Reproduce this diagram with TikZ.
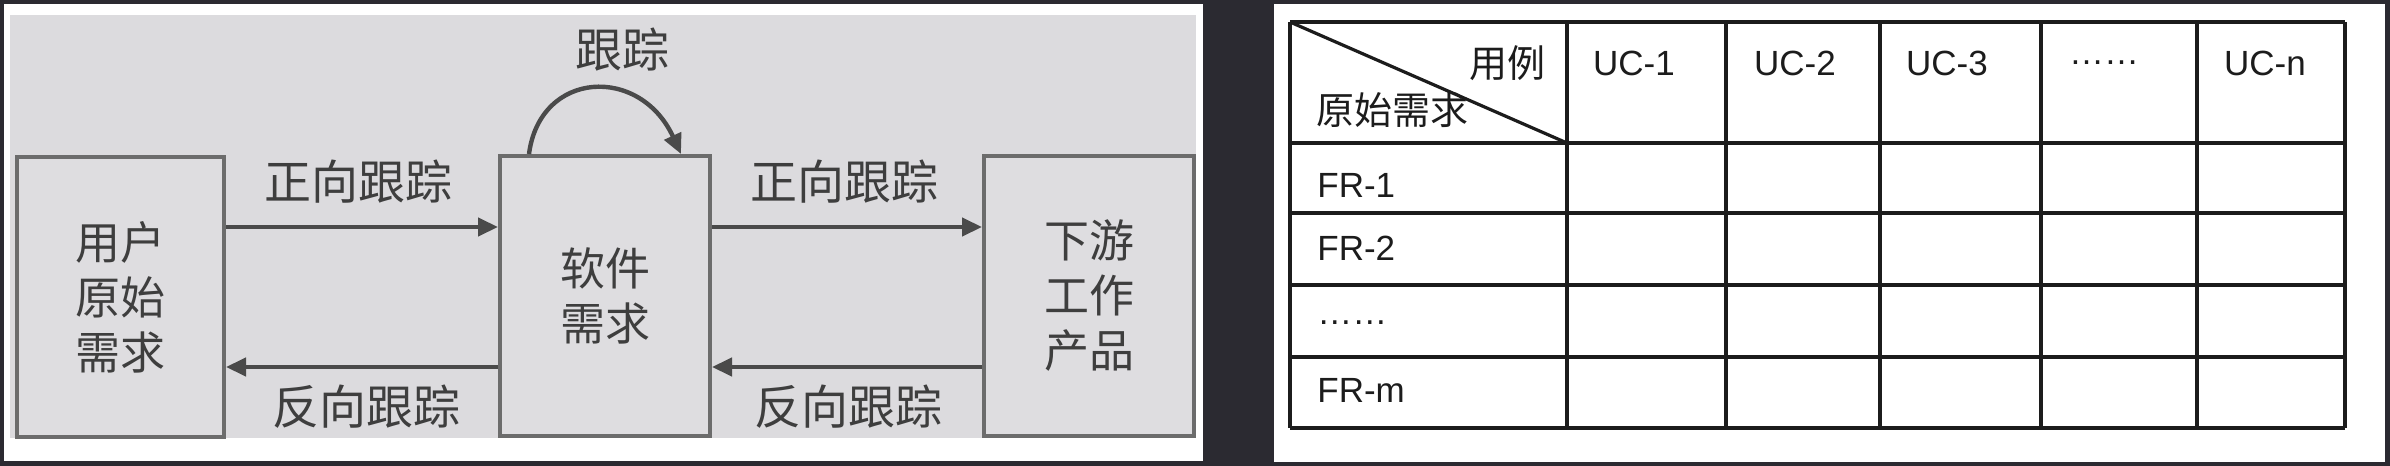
\documentclass[tikz,border=0pt]{standalone}
\usepackage{fontspec}
\setmainfont{Liberation Sans}
\newfontfamily\cjk{Noto Sans CJK SC}
\usetikzlibrary{arrows.meta,calc}
\definecolor{darkbg}{HTML}{2B2A31}
\definecolor{panelgray}{HTML}{DCDBDE}
\definecolor{boxfill}{HTML}{DEDDE0}
\definecolor{boxline}{HTML}{6C6C6C}
\definecolor{arrline}{HTML}{4A4A4A}
\definecolor{txtgray}{HTML}{3E3E3E}
\definecolor{tabline}{HTML}{1C1C1C}
\tikzset{
  flowbox/.style={draw=boxline, line width=2pt, fill=boxfill, minimum height=140pt,
    align=center, text=txtgray, inner sep=0pt,
    font=\cjk\fontsize{22.5}{27.5}\selectfont},
  arr/.style={draw=arrline, line width=2.2pt, -{Triangle[length=10pt,width=9pt]}},
  flowlbl/.style={text=txtgray, inner sep=0pt, font=\cjk\fontsize{23.5}{28}\selectfont},
  tabrule/.style={draw=tabline, line width=2pt},
  tabcjk/.style={text=tabline, inner sep=0pt, font=\cjk\fontsize{19}{22}\selectfont},
  tablat/.style={text=tabline, inner sep=0pt, font=\fontsize{17.5}{20}\selectfont}
}
\begin{document}
\begin{tikzpicture}[x=0.5pt,y=-0.5pt]
\useasboundingbox (0,0) rectangle (2390,466);
\fill[darkbg] (0,0) rectangle (2390,466);
% ---------- left panel ----------
\fill[white] (4,4) rectangle (1203,461);
\fill[panelgray] (10,15) rectangle (1196,438);
\node[flowbox, minimum width=103.5pt] (lb) at (120.5,297) {用户\\原始\\需求};
\node[flowbox, minimum width=105pt] (mb) at (605,296) {软件\\需求};
\node[flowbox, minimum width=105pt] (rb) at (1089,296) {下游\\工作\\产品};
\coordinate (yf) at (0,227);
\coordinate (yb) at (0,367);
\draw[arr] (lb.east |- yf) -- (mb.west |- yf);
\draw[arr] (mb.east |- yf) -- (rb.west |- yf);
\draw[arr] (mb.west |- yb) -- (lb.east |- yb);
\draw[arr] (rb.west |- yb) -- (mb.east |- yb);
\node[flowlbl] (f1) at (358,182) {正向跟踪};
\node[flowlbl] (f2) at (844,182) {正向跟踪};
\node[flowlbl] (b1) at (366,407) {反向跟踪};
\node[flowlbl] (b2) at (848,407) {反向跟踪};
\node[flowlbl] (tl) at (622,50) {跟踪};
\coordinate (ls) at ($(mb.north)+(-76,0)$);
\coordinate (le) at ($(mb.north)+(76,0)$);
\draw[arr] (ls) .. controls (540,70) and (640,65) .. (le);
% ---------- right panel ----------
\fill[white] (1274,4) rectangle (2385,462);
\foreach \x in {1290,1567,1726,1880,2041,2197,2345}
  \draw[tabrule] (\x,22) -- (\x,428);
\foreach \y in {22,143,213,285,357,428}
  \draw[tabrule] (1290,\y) -- (2345,\y);
\draw[tabrule, line width=1.6pt] (1290,22) -- (1567,143);
\node[tabcjk] (yl) at (1507,63) {用例};
\node[tabcjk] (ys) at (1392,110) {原始需求};
\node[tablat] (u1) at (1634,63) {UC-1};
\node[tablat] (u2) at (1795,63) {UC-2};
\node[tablat] (u3) at (1947,63) {UC-3};
\node[tablat, anchor=base] (ud) at (2104,64) {……};
\node[tablat] (un) at (2265,63) {UC-n};
\node[tablat, anchor=west] (r1) at (1317,185) {FR-1};
\node[tablat, anchor=west] (r2) at (1317,248) {FR-2};
\node[tablat, anchor=base west] (rd) at (1317,324) {……};
\node[tablat, anchor=west] (rm) at (1317,390) {FR-m};
\end{tikzpicture}
\end{document}
